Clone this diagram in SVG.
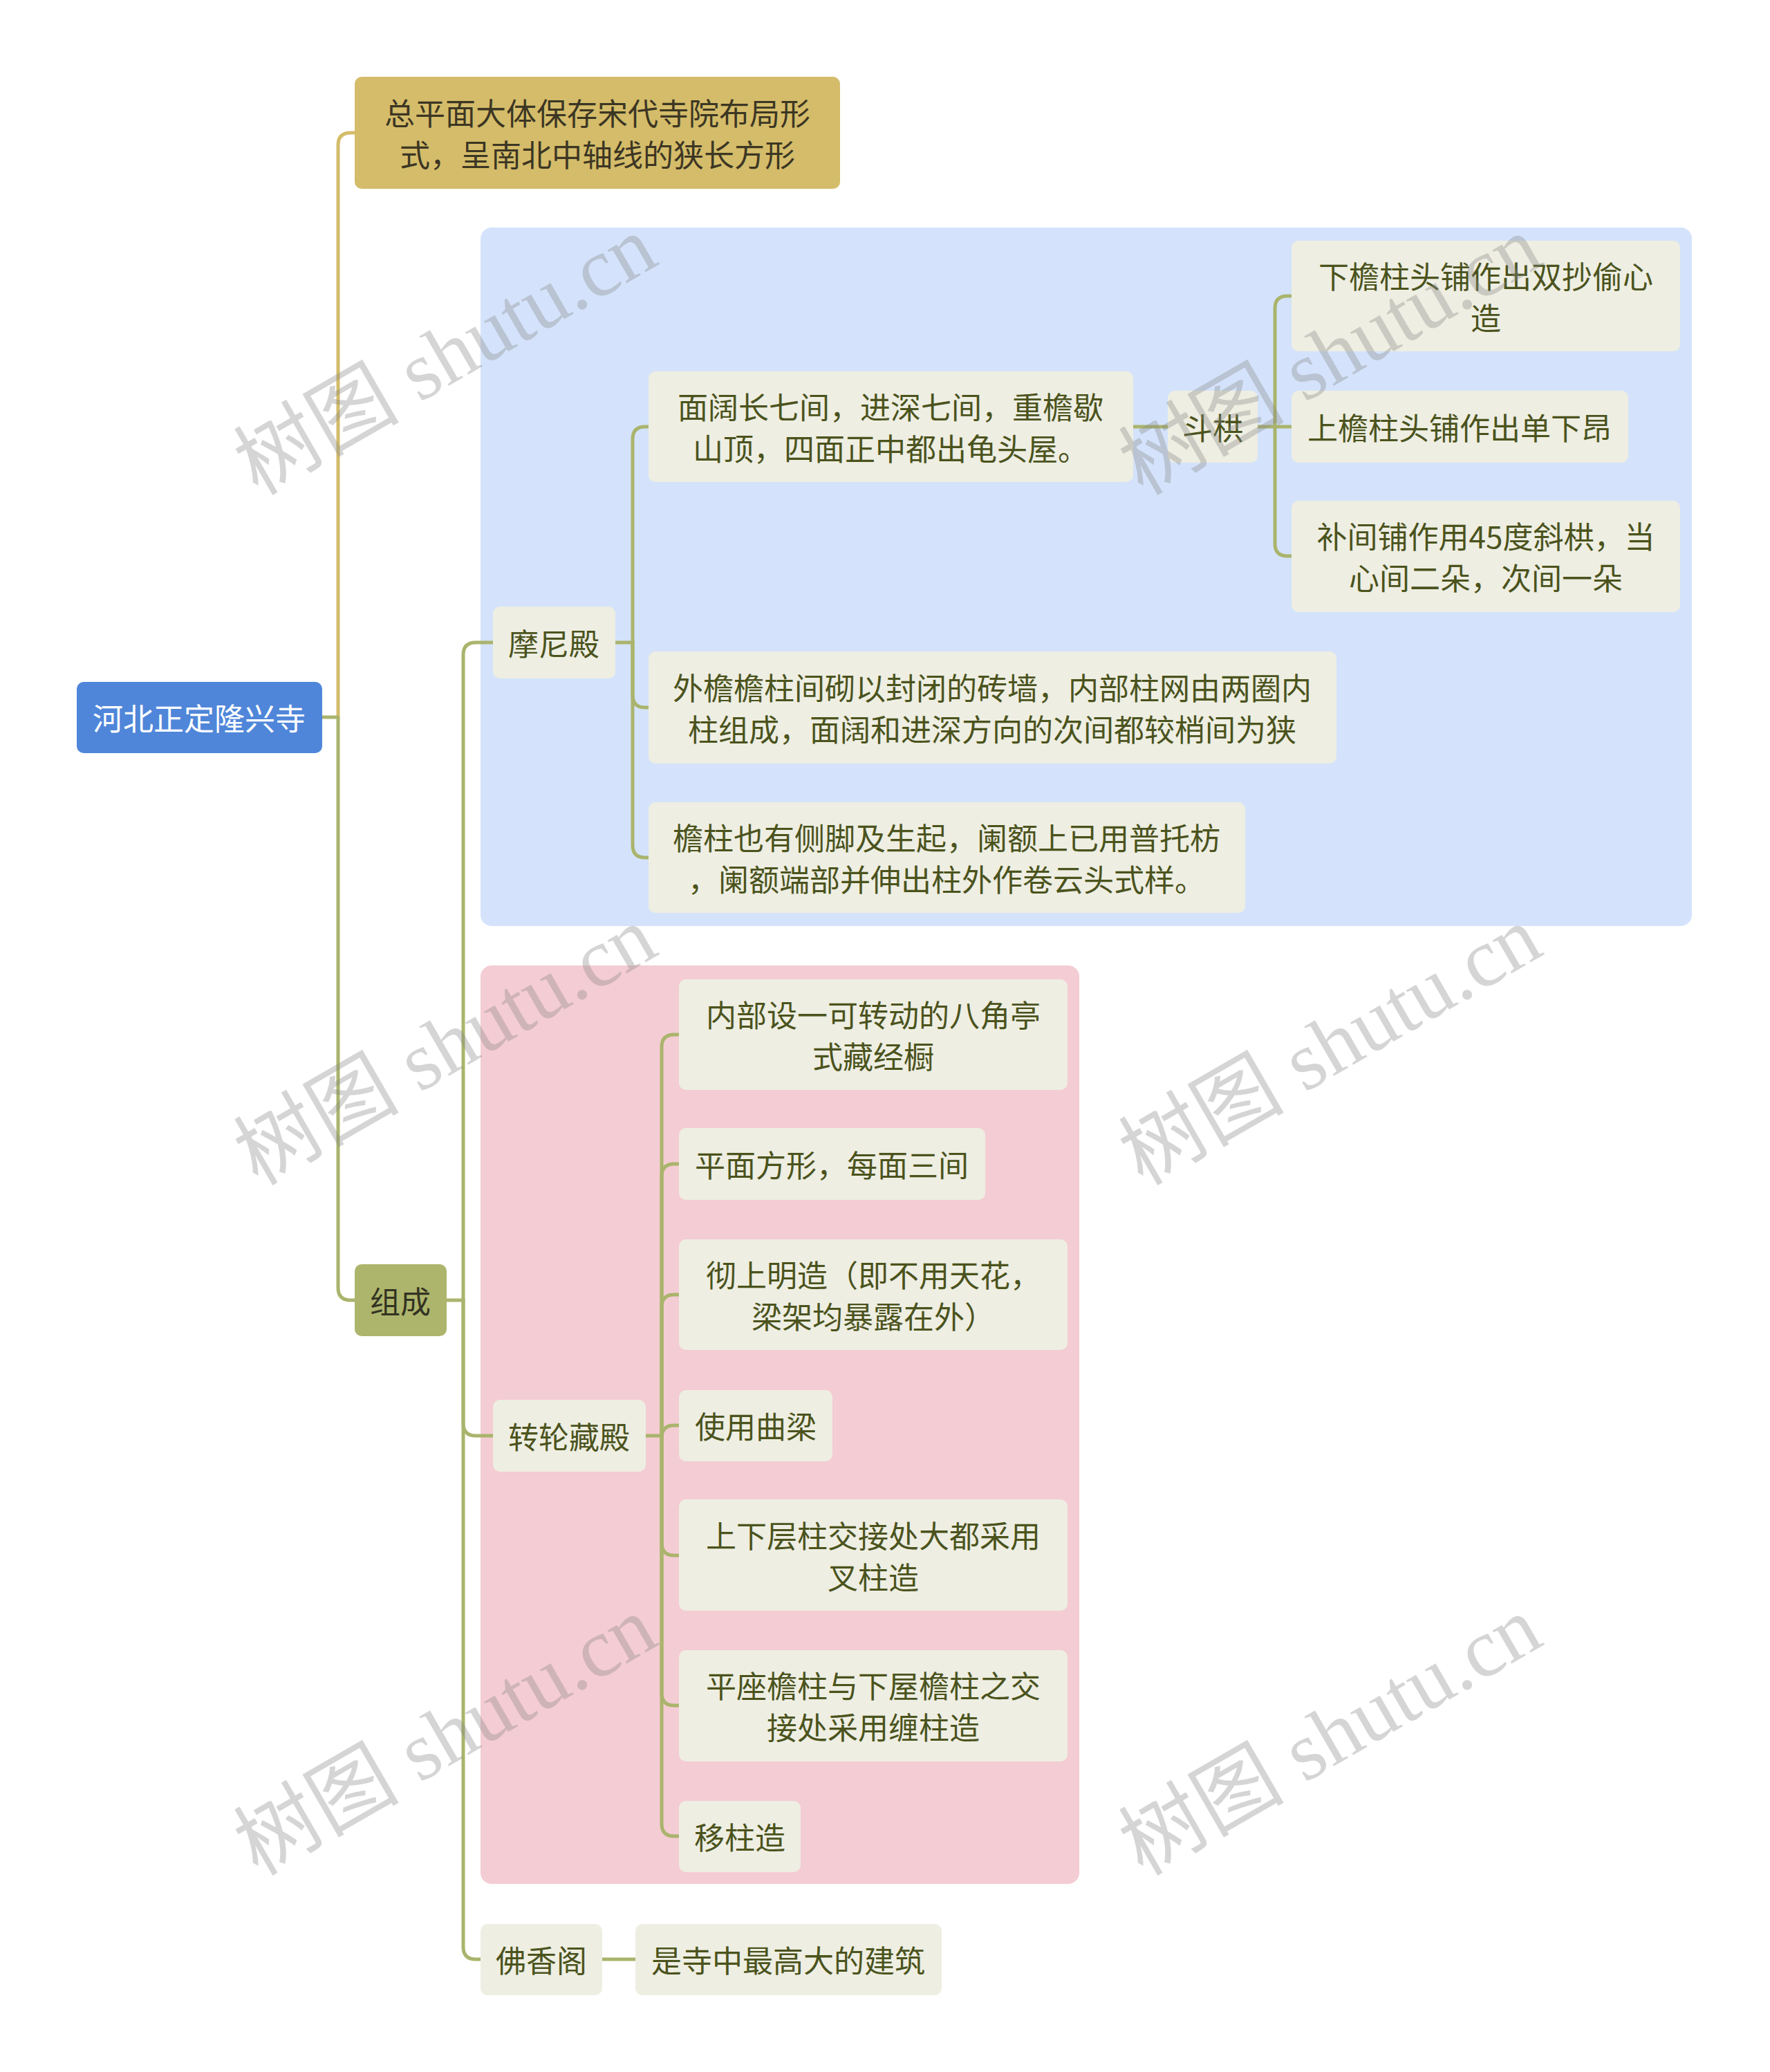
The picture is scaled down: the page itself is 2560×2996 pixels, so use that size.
<svg xmlns="http://www.w3.org/2000/svg" width="2560" height="2996" viewBox="0 0 2560 2996">
<style>
  .t { font-family: "Noto Sans CJK SC", "Liberation Sans", sans-serif; font-size: 44px; text-anchor: middle; dominant-baseline: central; }
  .leaf rect { fill: #EEEEE2; }
  .leaf text { fill: #4B531D; }
  .ln { fill: none; stroke: #AAB46C; stroke-width: 5; stroke-linecap: round; stroke-linejoin: round; }
  .lg { fill: none; stroke: #D4BC6A; stroke-width: 5; stroke-linecap: round; stroke-linejoin: round; }
  .wm { font-family: "Liberation Serif", "Noto Sans CJK SC", serif; font-size: 120px; fill: #888888; fill-opacity: 0.35; text-anchor: middle; dominant-baseline: central; }
</style>
<rect width="2560" height="2996" fill="#FFFFFF"/>

<!-- background regions -->
<rect x="695" y="329" width="1752" height="1010" rx="16" fill="#D4E3FB"/>
<rect x="695" y="1396" width="866" height="1328" rx="16" fill="#F4CCD3"/>

<g id="connectors">
  <path class="lg" d="M489 1037 V210 Q489 192 507 192 H513"/>
  <path class="ln" d="M466 1037 H489 V1862 Q489 1880 507 1880 H513"/>
  <path class="ln" d="M646 1880 H670"/>
  <path class="ln" d="M670 1880 V947 Q670 929 688 929 H713"/>
  <path class="ln" d="M670 1880 V2058 Q670 2076 688 2076 H713"/>
  <path class="ln" d="M670 1880 V2815 Q670 2833 688 2833 H695"/>
  <path class="ln" d="M890 929 H915"/>
  <path class="ln" d="M915 929 V635 Q915 617 933 617 H938"/>
  <path class="ln" d="M915 929 V1005 Q915 1023 933 1023 H938"/>
  <path class="ln" d="M915 929 V1222 Q915 1240 933 1240 H938"/>
  <path class="ln" d="M1639 617 H1689"/>
  <path class="ln" d="M1819 617 H1868"/>
  <path class="ln" d="M1844 617 V446 Q1844 428 1862 428 H1868"/>
  <path class="ln" d="M1844 617 V786 Q1844 804 1862 804 H1868"/>
  <path class="ln" d="M934 2076 H957"/>
  <path class="ln" d="M957 2076 V1514 Q957 1496 975 1496 H982"/>
  <path class="ln" d="M957 2076 V1701 Q957 1683 975 1683 H982"/>
  <path class="ln" d="M957 2076 V1890 Q957 1872 975 1872 H982"/>
  <path class="ln" d="M957 2076 V2079 Q957 2061 975 2061 H982"/>
  <path class="ln" d="M957 2076 V2231 Q957 2249 975 2249 H982"/>
  <path class="ln" d="M957 2076 V2448 Q957 2466 975 2466 H982"/>
  <path class="ln" d="M957 2076 V2637 Q957 2655 975 2655 H982"/>
  <path class="ln" d="M871 2833 H919"/>
</g>

<g id="root">
  <rect x="111" y="986" width="355" height="103" rx="10" fill="#4F86D9"/>
  <text class="t" x="288" y="1037" fill="#FFFFFF">河北正定隆兴寺</text>
</g>

<g id="n-plan">
  <rect x="513" y="111" width="702" height="162" rx="10" fill="#D4BC6A"/>
  <text class="t" x="864" y="162" fill="#3C3623">总平面大体保存宋代寺院布局形</text>
  <text class="t" x="864" y="222" fill="#3C3623">式，呈南北中轴线的狭长方形</text>
</g>

<g id="n-zucheng">
  <rect x="513" y="1828" width="133" height="104" rx="10" fill="#ADB56C"/>
  <text class="t" x="579" y="1880" fill="#333322">组成</text>
</g>

<g id="n-moni" class="leaf">
  <rect x="713" y="877" width="177" height="104" rx="10"/>
  <text class="t" x="801" y="929">摩尼殿</text>
</g>

<g id="n-miankuo" class="leaf">
  <rect x="938" y="537" width="701" height="160" rx="10"/>
  <text class="t" x="1288" y="587">面阔长七间，进深七间，重檐歇</text>
  <text class="t" x="1288" y="647">山顶，四面正中都出龟头屋。</text>
</g>

<g id="n-dougong" class="leaf">
  <rect x="1689" y="565" width="130" height="104" rx="10"/>
  <text class="t" x="1754" y="617">斗栱</text>
</g>

<g id="n-xiayan" class="leaf">
  <rect x="1868" y="348" width="562" height="160" rx="10"/>
  <text class="t" x="2149" y="398">下檐柱头铺作出双抄偷心</text>
  <text class="t" x="2149" y="458">造</text>
</g>

<g id="n-shangyan" class="leaf">
  <rect x="1868" y="565" width="487" height="104" rx="10"/>
  <text class="t" x="2111" y="617">上檐柱头铺作出单下昂</text>
</g>

<g id="n-bujian" class="leaf">
  <rect x="1868" y="724" width="562" height="161" rx="10"/>
  <text class="t" x="2149" y="774">补间铺作用45度斜栱，当</text>
  <text class="t" x="2149" y="834">心间二朵，次间一朵</text>
</g>

<g id="n-waiyan" class="leaf">
  <rect x="938" y="942" width="995" height="162" rx="10"/>
  <text class="t" x="1435" y="993">外檐檐柱间砌以封闭的砖墙，内部柱网由两圈内</text>
  <text class="t" x="1435" y="1053">柱组成，面阔和进深方向的次间都较梢间为狭</text>
</g>

<g id="n-yanzhu" class="leaf">
  <rect x="938" y="1160" width="863" height="160" rx="10"/>
  <text class="t" x="1369" y="1210">檐柱也有侧脚及生起，阑额上已用普托枋</text>
  <text class="t" x="1369" y="1270">，阑额端部并伸出柱外作卷云头式样。</text>
</g>

<g id="n-zhuanlun" class="leaf">
  <rect x="713" y="2024" width="221" height="104" rx="10"/>
  <text class="t" x="823" y="2076">转轮藏殿</text>
</g>

<g id="n-neibu" class="leaf">
  <rect x="982" y="1416" width="562" height="160" rx="10"/>
  <text class="t" x="1263" y="1466">内部设一可转动的八角亭</text>
  <text class="t" x="1263" y="1526">式藏经橱</text>
</g>

<g id="n-pingmian" class="leaf">
  <rect x="982" y="1631" width="443" height="104" rx="10"/>
  <text class="t" x="1203" y="1683">平面方形，每面三间</text>
</g>

<g id="n-cheshang" class="leaf">
  <rect x="982" y="1792" width="562" height="160" rx="10"/>
  <text class="t" x="1263" y="1842">彻上明造（即不用天花，</text>
  <text class="t" x="1263" y="1902">梁架均暴露在外）</text>
</g>

<g id="n-quliang" class="leaf">
  <rect x="982" y="2010" width="222" height="103" rx="10"/>
  <text class="t" x="1093" y="2061">使用曲梁</text>
</g>

<g id="n-shangxia" class="leaf">
  <rect x="982" y="2168" width="562" height="161" rx="10"/>
  <text class="t" x="1263" y="2219">上下层柱交接处大都采用</text>
  <text class="t" x="1263" y="2279">叉柱造</text>
</g>

<g id="n-pingzuo" class="leaf">
  <rect x="982" y="2386" width="562" height="161" rx="10"/>
  <text class="t" x="1263" y="2436">平座檐柱与下屋檐柱之交</text>
  <text class="t" x="1263" y="2496">接处采用缠柱造</text>
</g>

<g id="n-yizhu" class="leaf">
  <rect x="982" y="2604" width="176" height="103" rx="10"/>
  <text class="t" x="1070" y="2655">移柱造</text>
</g>

<g id="n-foxiang" class="leaf">
  <rect x="695" y="2782" width="176" height="103" rx="10"/>
  <text class="t" x="783" y="2833">佛香阁</text>
</g>

<g id="n-zuigao" class="leaf">
  <rect x="919" y="2782" width="443" height="103" rx="10"/>
  <text class="t" x="1140" y="2833">是寺中最高大的建筑</text>
</g>

<g id="watermarks">
  <text class="wm" transform="translate(644 514) rotate(-30)">树图 shutu.cn</text>
  <text class="wm" transform="translate(1924 514) rotate(-30)">树图 shutu.cn</text>
  <text class="wm" transform="translate(644 1512) rotate(-30)">树图 shutu.cn</text>
  <text class="wm" transform="translate(1924 1512) rotate(-30)">树图 shutu.cn</text>
  <text class="wm" transform="translate(644 2510) rotate(-30)">树图 shutu.cn</text>
  <text class="wm" transform="translate(1924 2510) rotate(-30)">树图 shutu.cn</text>
</g>
</svg>
